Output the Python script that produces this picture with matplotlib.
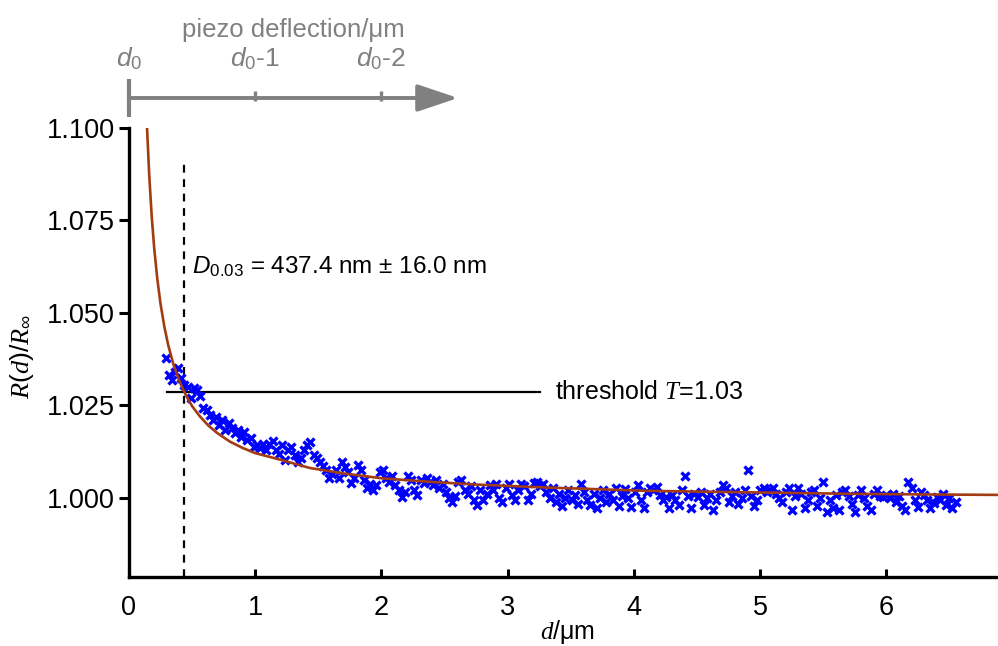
import numpy as np
import matplotlib
matplotlib.use("Agg")
import matplotlib.pyplot as plt

plt.rcParams['font.family'] = ['Liberation Sans', 'DejaVu Sans']
plt.rcParams['mathtext.fontset'] = 'custom'
plt.rcParams['mathtext.it'] = 'Liberation Serif:italic'
plt.rcParams['mathtext.rm'] = 'Liberation Sans'
plt.rcParams['mathtext.sf'] = 'Liberation Sans:italic'

# ---- data ----
meas_y = [
    1.0378, 1.0332, 1.0319, 1.0341, 1.0351, 1.0324, 1.0305, 1.0300, 1.0270, 1.0297,
    1.0292, 1.0276, 1.0243, 1.0238, 1.0224, 1.0211, 1.0219, 1.0197, 1.0211, 1.0184,
    1.0203, 1.0189, 1.0176, 1.0184, 1.0165, 1.0178, 1.0157, 1.0162, 1.0138, 1.0143,
    1.0135, 1.0146, 1.0130, 1.0146, 1.0154, 1.0130, 1.0119, 1.0143, 1.0103, 1.0130,
    1.0138, 1.0116, 1.0097, 1.0108, 1.0130, 1.0143, 1.0151, 1.0116, 1.0108, 1.0097,
    1.0086, 1.0076, 1.0054, 1.0065, 1.0076, 1.0054, 1.0097, 1.0084, 1.0070, 1.0041,
    1.0054, 1.0089, 1.0076, 1.0049, 1.0027, 1.0038, 1.0022, 1.0035, 1.0070, 1.0076,
    1.0054, 1.0043, 1.0059, 1.0035, 1.0022, 1.0003, 1.0016, 1.0059, 1.0049, 1.0022,
    1.0008, 1.0049, 1.0041, 1.0054, 1.0043, 1.0035, 1.0049, 1.0027, 1.0038, 1.0016,
    1.0000, 0.9989, 1.0005, 1.0043, 1.0049, 1.0022, 1.0011, 1.0032, 0.9995, 0.9981,
    1.0022, 0.9995, 1.0011, 1.0035, 1.0022, 1.0038, 1.0000, 0.9989, 1.0027, 1.0038,
    1.0008, 0.9995, 1.0022, 1.0038, 1.0032, 0.9995, 1.0011, 1.0041, 1.0043, 1.0032,
    1.0038, 1.0016, 1.0000, 1.0027, 0.9989, 1.0011, 0.9978, 1.0000, 1.0022, 0.9995,
    1.0008, 0.9984, 1.0038, 1.0016, 0.9995, 0.9981, 1.0011, 0.9973, 1.0000, 1.0022,
    0.9989, 1.0011, 0.9995, 1.0027, 0.9978, 1.0005, 1.0024, 1.0000, 0.9976, 1.0016,
    1.0035, 0.9995, 0.9973, 1.0016, 1.0027, 1.0022, 1.0030, 1.0008, 0.9995, 1.0003,
    0.9973, 1.0008, 0.9995, 0.9981, 1.0022, 1.0059, 1.0005, 0.9973, 1.0011, 1.0003,
    1.0016, 0.9981, 1.0000, 1.0011, 0.9968, 0.9995, 1.0016, 1.0035, 1.0027, 0.9989,
    1.0005, 1.0016, 0.9984, 1.0000, 1.0022, 1.0076, 1.0005, 0.9978, 0.9995, 1.0022,
    1.0027, 1.0016, 1.0022, 1.0027, 1.0011, 1.0000, 0.9989, 1.0016, 1.0027, 0.9968,
    1.0005, 1.0027, 1.0011, 0.9973, 0.9995, 1.0016, 1.0022, 0.9978, 1.0000, 1.0043,
    0.9962, 0.9995, 0.9973, 1.0008, 0.9968, 1.0016, 1.0022, 1.0005, 0.9984, 0.9962,
    1.0008, 1.0022, 1.0000, 0.9978, 0.9968, 1.0011, 1.0022, 1.0005, 1.0003, 1.0008,
    1.0000, 1.0011, 0.9989, 1.0005, 0.9978, 0.9968, 1.0043, 1.0027, 0.9995, 0.9976,
    1.0016, 1.0008, 0.9995, 0.9973, 0.9986, 1.0003, 0.9995, 1.0011, 0.9981, 1.0000,
    0.9973, 0.9989,
]
meas_x_start = 0.29
meas_x_end = 6.55

fit_x = [0.143, 0.16, 0.18, 0.20, 0.225, 0.25, 0.28, 0.31, 0.35, 0.40, 0.45, 0.50,
         0.56, 0.63, 0.70, 0.80, 0.90, 1.00, 1.20, 1.43, 1.70, 2.00, 2.40, 2.75,
         3.30, 4.10, 4.90, 5.70, 6.40, 6.89]
fit_y = [1.1000, 1.0874, 1.0761, 1.0674, 1.0590, 1.0524, 1.0463, 1.0414, 1.0363,
         1.0315, 1.0278, 1.0248, 1.0221, 1.0195, 1.0175, 1.0152, 1.0135, 1.0121,
         1.0103, 1.0081, 1.0066, 1.0053, 1.0043, 1.0036, 1.0028, 1.0019, 1.0015,
         1.0011, 1.0009, 1.0008]

D_value = 0.4374       # µm
threshold = 1.0285
threshold_span = [0.30, 3.26]
dashed_top = 1.0914

x_ticks = [0, 1, 2, 3, 4, 5, 6]
y_ticks = [1.000, 1.025, 1.050, 1.075, 1.100]
top_ticks = [0, 1, 2]
top_labels = [r'$\mathsf{d}_{\mathrm{0}}$', r'$\mathsf{d}_{\mathrm{0}}$-1', r'$\mathsf{d}_{\mathrm{0}}$-2']
top_arrow_end = 2.607

meas_x = np.linspace(meas_x_start, meas_x_end, len(meas_y))

# ---- figure ----
fig = plt.figure(figsize=(9.98, 6.46), dpi=100)
ax = fig.add_axes([129/998, 69/646, 869/998, 449/646])
ax.set_xlim(0, 6.886)
ax.set_ylim(0.9786, 1.100)

ax.plot(meas_x, meas_y, linestyle='none', marker='x', color='#0000FF',
        markersize=6, markeredgewidth=2.4, zorder=3)
ax.plot(fit_x, fit_y, color='#A23C12', linewidth=1.9, zorder=4)

ax.plot([D_value, D_value], [0.9786, dashed_top], color='black',
        linestyle=(0, (3.5, 3.0)), linewidth=1.6, zorder=2, clip_on=False)
ax.plot(threshold_span, [threshold, threshold], color='black', linewidth=1.6, zorder=2)

ax.text(3.376, threshold, r'threshold $T$=1.03', fontsize=18, va='center', ha='left')
ax.text(0.50, 1.0607, r'$\mathsf{D}_{\mathrm{0.03}}$ = 437.4 nm ± 16.0 nm',
        fontsize=17.5, va='baseline', ha='left')

for s in ['top', 'right']:
    ax.spines[s].set_visible(False)
for s in ['left', 'bottom']:
    ax.spines[s].set_linewidth(2.4)

ax.set_xticks(x_ticks)
ax.set_xticklabels([str(v) for v in x_ticks])
ax.set_yticks(y_ticks)
ax.set_yticklabels([f'{v:.3f}' for v in y_ticks])
ax.tick_params(axis='x', direction='in', length=6, width=2.2, labelsize=19.5, pad=13)
ax.tick_params(axis='y', direction='out', length=7, width=2.2, labelsize=19.5, pad=3)

fig.text(567/998, 1 - 632/646, r'$d$/μm', fontsize=18, ha='center', va='center')
fig.text(22/998, 1 - 357/646, r'$R(d)/R_{\infty}$', fontsize=19, ha='center',
         va='center', rotation=90)

# ---- top piezo arrow axis ----
gray = '#808080'
ytop = (577 - 98) / 449
trans = ax.get_xaxis_transform()
ax.annotate('', xy=(top_arrow_end, ytop), xytext=(0, ytop), xycoords=trans,
            textcoords=trans,
            arrowprops=dict(arrowstyle='-|>,head_length=1.25,head_width=0.42',
                            color=gray, lw=2.8, shrinkA=0, shrinkB=0,
                            mutation_scale=20),
            annotation_clip=False)
ax.plot([0, 0], [(577 - 79) / 449, (577 - 117) / 449], color=gray, lw=3.0,
        transform=trans, clip_on=False, solid_capstyle='butt')
for t in top_ticks[1:]:
    ax.plot([t, t], [(577 - 91) / 449, (577 - 101) / 449], color=gray, lw=2.4,
            transform=trans, clip_on=False, solid_capstyle='butt')
for t, lab in zip(top_ticks, top_labels):
    ax.text(t, (577 - 66) / 449, lab, color=gray, fontsize=19, ha='center',
            va='baseline', transform=trans)
ax.text(1.3, (577 - 37) / 449, 'piezo deflection/μm', color=gray, fontsize=18.5,
        ha='center', va='baseline', transform=trans)

fig.savefig('out.png', dpi=100)
